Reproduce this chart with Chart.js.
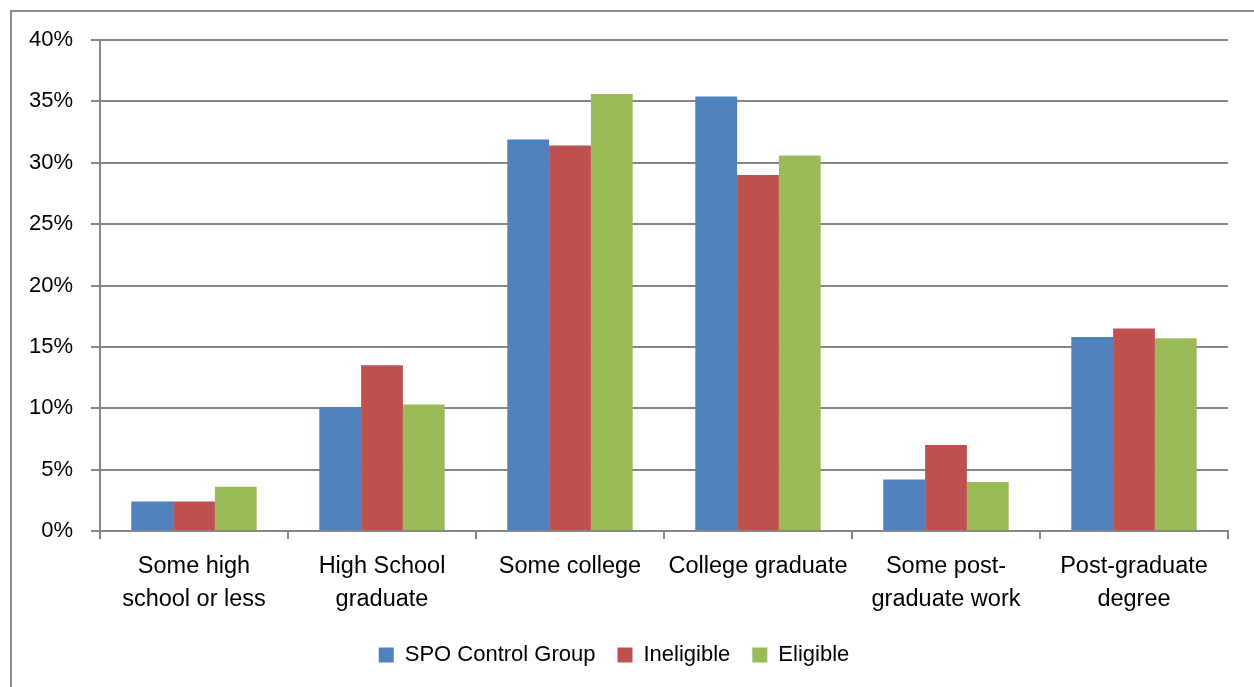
<!DOCTYPE html>
<html>
<head>
<meta charset="utf-8">
<script src="https://cdn.jsdelivr.net/npm/chart.js@4.4.1/dist/chart.umd.min.js"></script>
<style>
  html, body { margin: 0; padding: 0; background: #fff; }
  #wrap { position: relative; width: 1254px; height: 687px; overflow: hidden; }
  #frame { position: absolute; left: 10px; top: 10px; width: 1300px; height: 700px;
           border-left: 2px solid #8c8c8c; border-top: 2px solid #8c8c8c; box-sizing: border-box; }
  canvas { position: absolute; left: 0; top: 0; }
</style>
</head>
<body>
<div id="wrap">
  <div id="frame"></div>
  <canvas id="eduChart" width="1254" height="687"></canvas>
</div>
<script>
const categories = [
  ["Some high", "school or less"],
  ["High School", "graduate"],
  ["Some college"],
  ["College graduate"],
  ["Some post-", "graduate work"],
  ["Post-graduate", "degree"]
];
const controlGroup = [2.4, 10.1, 31.9, 35.4, 4.2, 15.8];
const ineligible   = [2.4, 13.5, 31.4, 29.0, 7.0, 16.5];
const eligible     = [3.6, 10.3, 35.6, 30.6, 4.0, 15.7];
const yTicks = [0, 5, 10, 15, 20, 25, 30, 35, 40];

const font = "'Liberation Sans', Arial, sans-serif";
const gridGray = "#868686";

new Chart(document.getElementById("eduChart"), {
  type: "bar",
  data: {
    labels: categories,
    datasets: [
      { label: "SPO Control Group", data: controlGroup, backgroundColor: "#4F81BD" },
      { label: "Ineligible", data: ineligible, backgroundColor: "#C0504D" },
      { label: "Eligible", data: eligible, backgroundColor: "#9BBB59" }
    ]
  },
  options: {
    responsive: false,
    animation: false,
    categoryPercentage: 0.667,
    barPercentage: 1.0,
    layout: { padding: { top: 40, right: 26, bottom: 11, left: 0 } },
    plugins: {
      legend: {
        position: "bottom",
        labels: {
          color: "#000",
          font: { family: font, size: 22 },
          boxWidth: 15,
          boxHeight: 15,
          padding: 22
        }
      },
      tooltip: { enabled: false }
    },
    scales: {
      x: {
        grid: { offset: true, drawOnChartArea: false, color: gridGray, lineWidth: 2, tickLength: 8 },
        border: { color: gridGray, width: 2 },
        ticks: {
          color: "#000",
          font: { family: font, size: 23.5, lineHeight: 1.4 },
          padding: 11,
          maxRotation: 0,
          autoSkip: false
        },
        afterFit: s => { s.height = 91; }
      },
      y: {
        min: 0,
        max: 40,
        afterBuildTicks: s => { s.ticks = yTicks.map(v => ({ value: v })); },
        grid: { color: gridGray, lineWidth: 2, tickLength: 9 },
        border: { color: gridGray, width: 2 },
        ticks: {
          color: "#000",
          font: { family: font, size: 22 },
          padding: 18,
          callback: v => v + "%"
        },
        afterFit: s => { s.width = 100; }
      }
    }
  }
});
</script>
</body>
</html>
